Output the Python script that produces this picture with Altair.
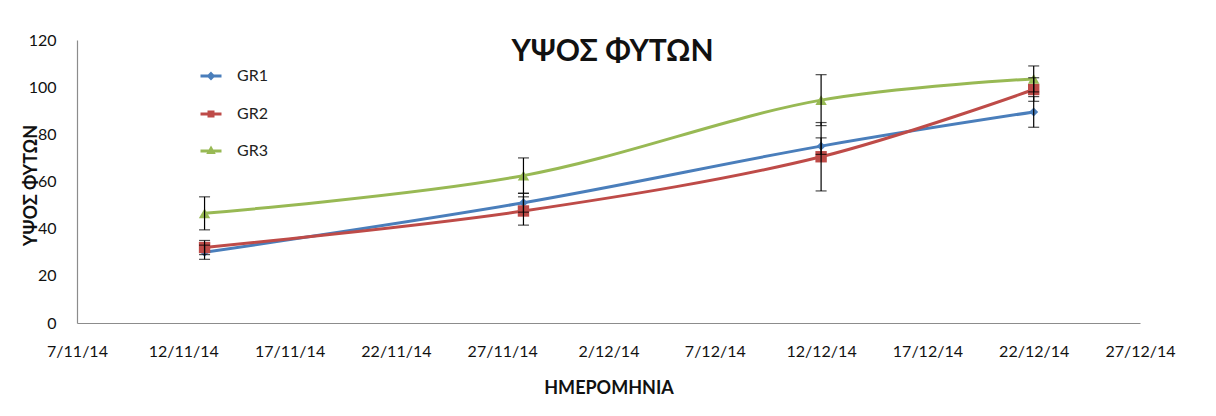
import altair as alt
import pandas as pd

# ---- data ----
dates = ["2014-11-13", "2014-11-28", "2014-12-12", "2014-12-22"]
series = ["GR1", "GR2", "GR3"]
gr1 = [30.0, 51.0, 75.0, 89.5]
gr1_err = [3.0, 4.0, 3.5, 6.5]
gr2 = [32.0, 47.5, 70.5, 99.0]
gr2_err = [3.0, 6.0, 14.5, 5.0]
gr3 = [46.5, 62.5, 94.5, 103.5]
gr3_err = [7.0, 7.5, 10.8, 5.5]

tick_dates = ["2014-11-07", "2014-11-12", "2014-11-17", "2014-11-22", "2014-11-27",
              "2014-12-02", "2014-12-07", "2014-12-12", "2014-12-17", "2014-12-22",
              "2014-12-27"]
y_ticks = [0, 20, 40, 60, 80, 100, 120]

colors = ["#4A7EBB", "#BE4B48", "#98B954"]
shapes = ["diamond", "square", "triangle-up"]
sizes = [80, 130, 130]
# legend symbols: a line segment with the series marker in the middle
legend_paths = [
    "M-1,0H1M0,-0.22L0.22,0L0,0.22L-0.22,0Z",
    "M-1,0H1M-0.19,-0.19H0.19V0.19H-0.19Z",
    "M-1,0H1M0,-0.23L0.21,0.15L-0.21,0.15Z",
]

rows = []
for s, vals, errs in zip(series, [gr1, gr2, gr3], [gr1_err, gr2_err, gr3_err]):
    for d, v, e in zip(dates, vals, errs):
        rows.append({"series": s, "date": d, "value": v, "lo": v - e, "hi": v + e})
df = pd.DataFrame(rows)


def dt(s):
    y, m, d = (int(p) for p in s.split("-"))
    return alt.DateTime(year=y, month=m, date=d, utc=True)


FONT = "Lato"
x_scale = alt.Scale(type="utc", domain=[dt(tick_dates[0]), dt(tick_dates[-1])])
x_axis = alt.Axis(values=[dt(t) for t in tick_dates], format="%-d/%-m/%y",
                  grid=False, ticks=False, domainColor="#8c8c8c", domainWidth=1.2,
                  labelFont=FONT, labelFontSize=16, labelColor="#111", labelPadding=20,
                  labelFlush=False, labelOverlap=False,
                  title="ΗΜΕΡΟΜΗΝΙΑ", titleFont=FONT, titleFontSize=18,
                  titleFontWeight="bold", titleColor="#111", titleY=65,
                  titleBaseline="middle")
y_scale = alt.Scale(domain=[0, 120], nice=False)
y_axis = alt.Axis(values=y_ticks, grid=False, ticks=False, domainColor="#8c8c8c",
                  domainWidth=1.2, labelFont=FONT, labelFontSize=16, labelColor="#111",
                  labelPadding=21, title="ΥΨΟΣ ΦΥΤΩΝ", titleFont=FONT, titleFontSize=18,
                  titleFontWeight="bold", titleColor="#111", titleX=-46, titleY=145,
                  titleBaseline="middle", titleAlign="center")

X = alt.X("date:T", scale=x_scale, axis=x_axis)
Y = alt.Y("value:Q", scale=y_scale, axis=y_axis)

layers = []
for i, s in enumerate(series):
    base = alt.Chart(df).transform_filter(alt.datum.series == s)
    layers.append(base.mark_line(color=colors[i], strokeWidth=3,
                                 interpolate="catmull-rom").encode(x=X, y=Y))
    layers.append(base.mark_point(shape=shapes[i], filled=True, size=sizes[i],
                                  color=colors[i], opacity=1).encode(x=X, y=Y))

errors = alt.Chart(df).mark_errorbar(ticks=True, size=11, thickness=1.2,
                                     color="black").encode(
    x=X,
    y=alt.Y("lo:Q", scale=y_scale, axis=y_axis),
    y2="hi:Q",
)
layers.append(errors)

LEG = alt.Legend(title=None, orient="none", legendX=122, legendY=24,
                 symbolOpacity=1, symbolStrokeWidth=3, symbolSize=441,
                 labelFont=FONT, labelFontSize=16, labelColor="#222",
                 labelOffset=14, rowPadding=17, padding=0)
legend_layer = alt.Chart(df).mark_point(filled=True, opacity=0, size=441,
                                        strokeWidth=3).encode(
    x=X, y=Y,
    color=alt.Color("series:N", scale=alt.Scale(domain=series, range=colors), legend=LEG),
    stroke=alt.Stroke("series:N", scale=alt.Scale(domain=series, range=colors), legend=LEG),
    shape=alt.Shape("series:N", scale=alt.Scale(domain=series, range=legend_paths), legend=LEG),
)
layers.append(legend_layer)

chart = alt.layer(*layers).properties(
    width=1063,
    height=283,
    title=alt.TitleParams("ΥΨΟΣ ΦΥΤΩΝ", font=FONT, fontSize=30, fontWeight="bold",
                          anchor="middle", frame="group", baseline="middle",
                          offset=-16, color="#111", dx=4, dy=34),
    autosize=alt.AutoSizeParams(type="none"),
    padding={"left": 69, "top": 32, "right": 65, "bottom": 80},
    background="white",
).configure_view(stroke=None)

chart.save("out.html", embed_options={"renderer": "svg", "actions": False})
